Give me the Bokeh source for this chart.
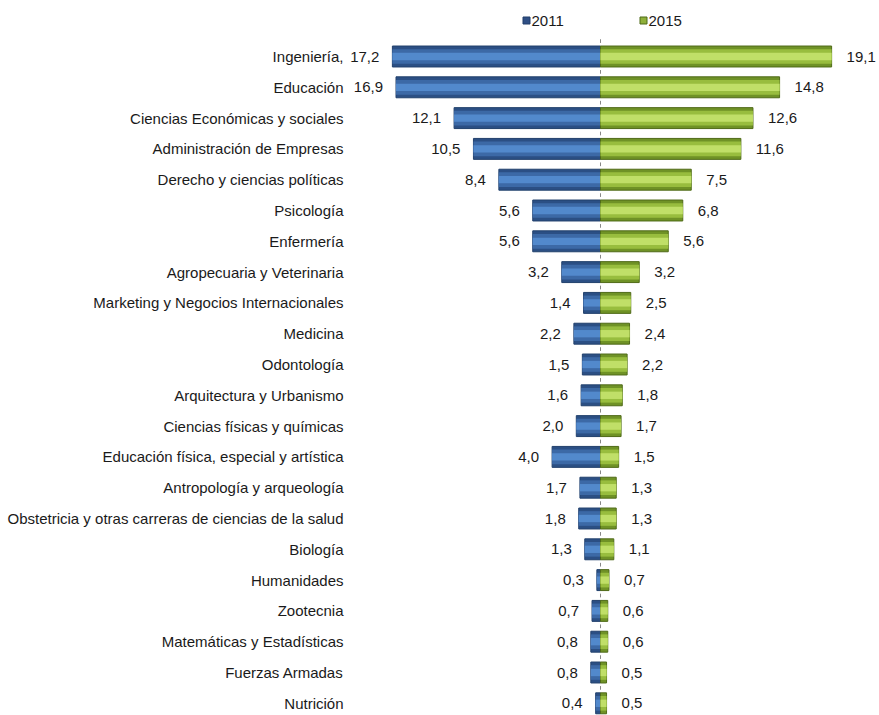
from bokeh.plotting import figure
from bokeh.models import Range1d, ColumnDataSource
from bokeh.core.properties import value
from bokeh.embed import file_html
from bokeh.resources import INLINE

categories = [
    "Ingeniería,", "Educación", "Ciencias Económicas y sociales", "Administración de Empresas",
    "Derecho y ciencias políticas", "Psicología", "Enfermería", "Agropecuaria y Veterinaria",
    "Marketing y Negocios Internacionales", "Medicina", "Odontología", "Arquitectura y Urbanismo",
    "Ciencias físicas y químicas", "Educación física, especial y artística", "Antropología y arqueología",
    "Obstetricia y otras carreras de ciencias de la salud", "Biología", "Humanidades", "Zootecnia",
    "Matemáticas y Estadísticas", "Fuerzas Armadas", "Nutrición",
]
v2011 = [17.2, 16.9, 12.1, 10.5, 8.4, 5.6, 5.6, 3.2, 1.4, 2.2, 1.5, 1.6, 2.0, 4.0, 1.7, 1.8, 1.3, 0.3, 0.7, 0.8, 0.8, 0.4]
v2015 = [19.1, 14.8, 12.6, 11.6, 7.5, 6.8, 5.6, 3.2, 2.5, 2.4, 2.2, 1.8, 1.7, 1.5, 1.3, 1.3, 1.1, 0.7, 0.6, 0.6, 0.5, 0.5]
series = ["2011", "2015"]

def fmt(v):
    return f"{v:.1f}".replace(".", ",")

n = len(categories)
ys = [-i for i in range(n)]
src = ColumnDataSource(dict(
    cat=categories, y=ys,
    left=[-v for v in v2011], right=v2015,
    l_lab=[fmt(v) for v in v2011], r_lab=[fmt(v) for v in v2015],
    zero=[0] * n,
    tick_top=[y + 0.56 for y in ys], tick_bot=[y + 0.44 for y in ys],
))

W, H = 879, 715
px_per = 12.1
cx = 600
top = 56.0
row = 30.8
p = figure(width=W, height=H, output_backend="svg", toolbar_location=None,
           x_range=Range1d(-cx / px_per, (W - cx) / px_per),
           y_range=Range1d(-(H - top) / row, top / row),
           min_border=0, outline_line_color=None)
p.axis.visible = False
p.grid.visible = False
p.background_fill_color = "white"
p.border_fill_color = "white"

FONT = value("Liberation Sans")
FS = "15px"
BH = 0.68

# 2011 bars (layered for a soft cylinder look)
p.hbar(y="y", left="left", right="zero", height=BH, source=src,
       fill_color="#2b4f84", line_color="#22406c", line_width=1)
p.hbar(y="y", left="left", right="zero", height=BH * 0.7, source=src,
       fill_color="#3c69a6", line_color=None)
p.hbar(y="y", left="left", right="zero", height=BH * 0.35, source=src,
       fill_color="#5289cc", line_color=None)
# 2015 bars
p.hbar(y="y", left="zero", right="right", height=BH, source=src,
       fill_color="#6f9226", line_color="#4f6a18", line_width=1)
p.hbar(y="y", left="zero", right="right", height=BH * 0.7, source=src,
       fill_color="#98bd3e", line_color=None)
p.hbar(y="y", left="zero", right="right", height=BH * 0.35, source=src,
       fill_color="#c0df68", line_color=None)

# small center ticks between rows
p.segment(x0="zero", x1="zero", y0="tick_bot", y1="tick_top", source=src,
          line_color="#888888", line_width=1)

# category labels
p.text(x=-(cx - 343) / px_per, y="y", text="cat", source=src, text_align="right",
       text_baseline="middle", text_font=FONT, text_font_size=FS, text_color="#1a1a1a")
# value labels
p.text(x="left", y="y", text="l_lab", source=src, x_offset=-13, text_align="right",
       text_baseline="middle", text_font=FONT, text_font_size=FS, text_color="#1a1a1a")
p.text(x="right", y="y", text="r_lab", source=src, x_offset=15, text_align="left",
       text_baseline="middle", text_font=FONT, text_font_size=FS, text_color="#1a1a1a")

# legend
ly = (top - 20) / row
leg_x = [(526 - cx) / px_per, (643 - cx) / px_per]
p.rect(x=leg_x, y=[ly, ly], width=7, height=7, width_units="screen", height_units="screen",
       fill_color=["#2f4f85", "#8fb03a"], line_color=["#223f6a", "#4f6a18"])
p.text(x=leg_x, y=[ly, ly], text=series, x_offset=5, text_align="left", text_baseline="middle",
       text_font=FONT, text_font_size=FS, text_color="#1a1a1a")

open("out.html", "w").write(file_html(p, INLINE))
